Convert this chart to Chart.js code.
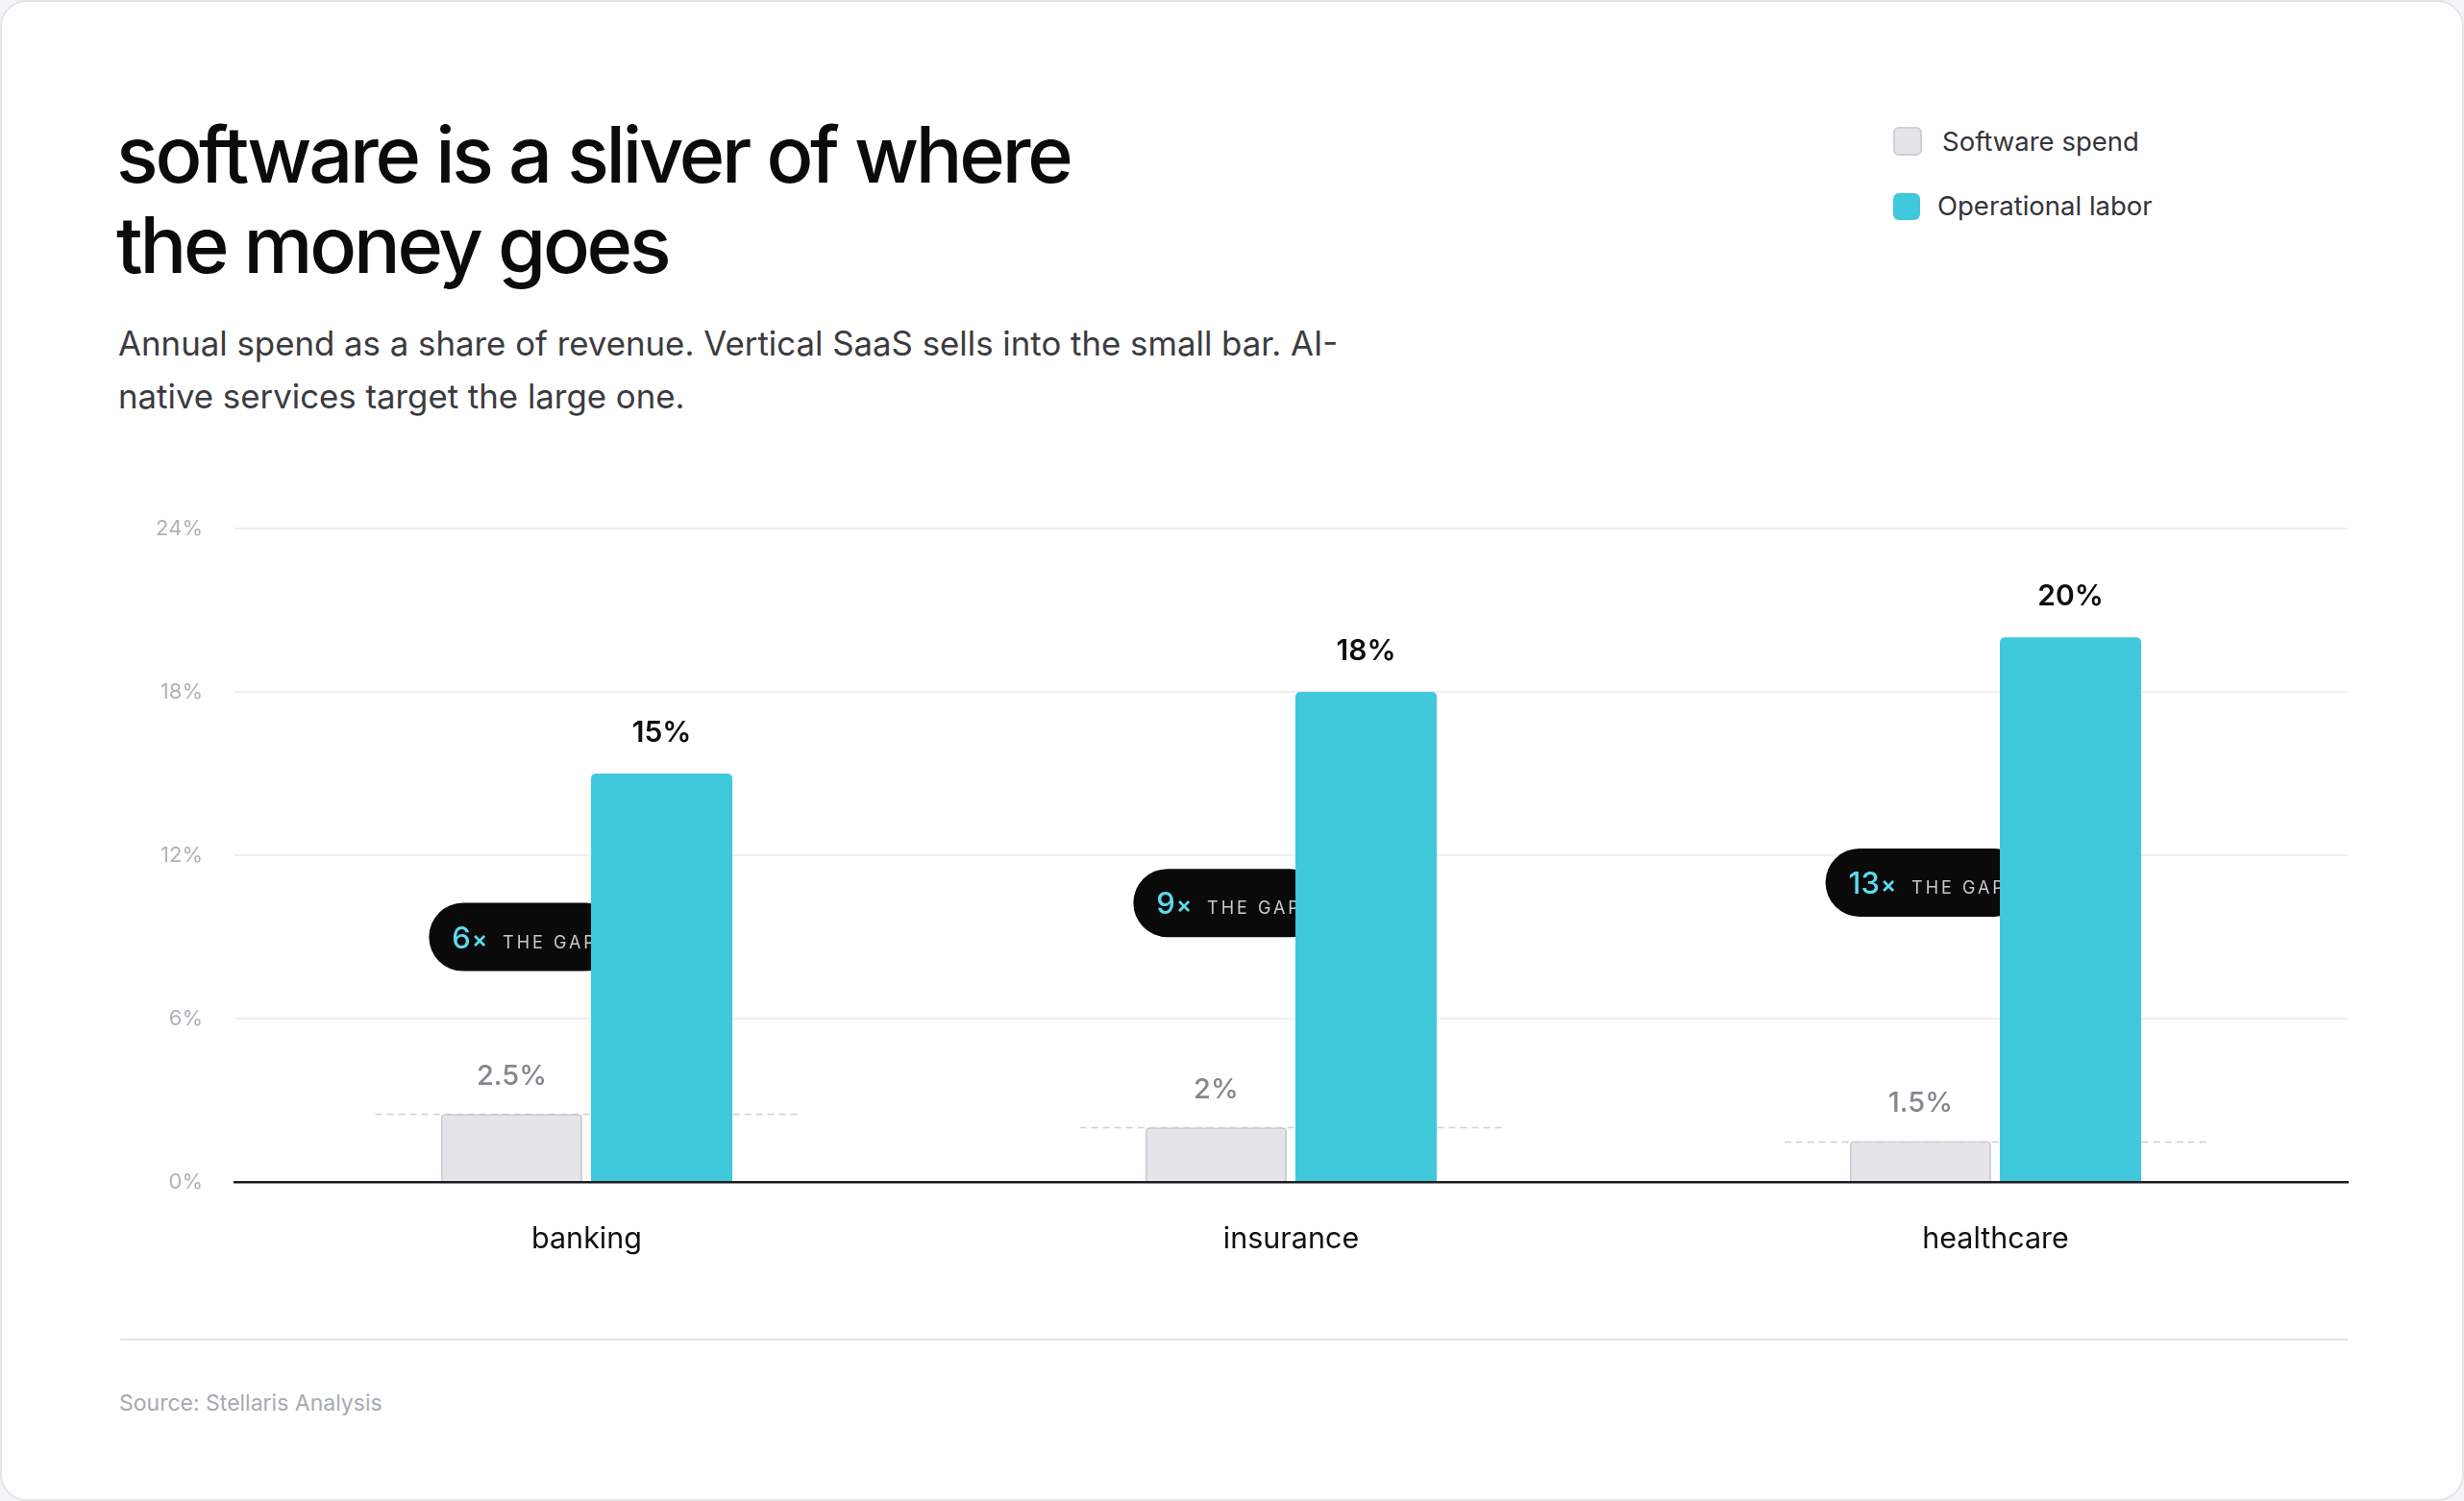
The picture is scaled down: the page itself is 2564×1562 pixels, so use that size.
<!DOCTYPE html>
<html>
<head>
<meta charset="utf-8">
<script src="https://cdn.jsdelivr.net/npm/chart.js@4.4.1/dist/chart.umd.min.js"></script>
<style>
  html, body { margin: 0; padding: 0; background: #f4f4f6; }
  body { width: 2564px; height: 1562px; position: relative; overflow: hidden; font-family: Inter, "Noto Sans", sans-serif; }
  .card { position: absolute; left: 0; top: 0; width: 2564px; height: 1562px; box-sizing: border-box;
          background: #fff; border: 2px solid #e4e4e9; border-radius: 28px; }
  .title { position: absolute; left: 119px; top: 112px; margin: 0; font-size: 81px; line-height: 94px;
           font-weight: 500; letter-spacing: -0.04em; color: #0b0b0c; white-space: nowrap; }
  .subtitle { position: absolute; left: 121px; top: 328px; margin: 0; font-size: 34.8px; line-height: 55px;
              font-weight: 400; color: #3b3b40; white-space: nowrap; }
  .legend { position: absolute; left: 1968px; top: -2px; }
  .legend .sw { position: absolute; left: 0; width: 30px; height: 30px; border-radius: 6px; box-sizing: border-box; }
  .legend .lbl { position: absolute; font-size: 27.5px; line-height: 34px; color: #34343a; white-space: nowrap; }
  .chart-box { position: absolute; left: 0; top: 497px; width: 2564px; height: 850px; }
  .sep { position: absolute; left: 123px; top: 1391px; width: 2318px; height: 2px; background: #e4e4e9; }
  .source { position: absolute; left: 122px; top: 1444px; font-size: 23px; line-height: 28px; color: #a9a9b0; }
</style>
</head>
<body>
<div class="card">
  <h1 class="title">software is a sliver of where<br>the money goes</h1>
  <p class="subtitle">Annual spend as a share of revenue. Vertical SaaS sells into the small bar. AI-<br>native services target the large one.</p>
  <div class="legend">
    <div class="sw" style="top:132px; background:#e4e5e9; border:2px solid #cfd0d6;"></div>
    <div class="lbl" style="left:51px; top:130px;">Software spend</div>
    <div class="sw" style="top:201px; width:28px; height:28px; background:#40c8db;"></div>
    <div class="lbl" style="left:46px; top:197px;">Operational labor</div>
  </div>
  <div class="chart-box"><canvas id="gapChart"></canvas></div>
  <div class="sep"></div>
  <div class="source">Source: Stellaris Analysis</div>
</div>

<script>
// chart data
const categories = ['banking', 'insurance', 'healthcare'];
const softwareSpend = [2.5, 2, 1.5];
const operationalLabor = [15, 18, 20];
const gapMultiples = ['6', '9', '13'];
const yTicks = [0, 6, 12, 18, 24];

const FONT = 'Inter, "Noto Sans", sans-serif';
const CYAN = '#40c8db';

// dashed reference lines, gap pills (behind bars) and value labels
const gapPlugin = {
    id: 'gapPlugin',
    beforeDatasetsDraw(chart) {
        const ctx = chart.ctx;
        const x = chart.scales.x;
        const y = chart.scales.y;
        const catW = x.getPixelForValue(1) - x.getPixelForValue(0);
        const labor = chart.getDatasetMeta(1).data;

        ctx.save();
        categories.forEach((c, i) => {
            // dashed line at software level
            const cx = x.getPixelForValue(i);
            const ly = Math.round(y.getPixelForValue(softwareSpend[i])) + 0.5;
            ctx.setLineDash([7, 5]);
            ctx.strokeStyle = '#cfcfd4';
            ctx.lineWidth = 1.5;
            ctx.beginPath();
            ctx.moveTo(cx - catW * 0.3, ly);
            ctx.lineTo(cx + catW * 0.3, ly);
            ctx.stroke();
            ctx.setLineDash([]);

            // pill with the gap multiple
            const bar = labor[i];
            const barLeft = bar.x - bar.width / 2;
            const midY = y.getPixelForValue((softwareSpend[i] + operationalLabor[i]) / 2) - 7;
            ctx.font = '500 31px ' + FONT;
            const wNum = ctx.measureText(gapMultiples[i]).width;
            ctx.font = '600 24px ' + FONT;
            const wX = ctx.measureText('×').width;
            const wBig = wNum + 1 + wX;
            const left = barLeft - 24 - wBig - 16 - 92;
            const h = 71;
            const r = h / 2;
            ctx.fillStyle = '#0a0a0b';
            ctx.beginPath();
            ctx.roundRect(left, midY - r, barLeft + 30 - left, h, r);
            ctx.fill();

            const base = midY + 11.5;
            ctx.textBaseline = 'alphabetic';
            ctx.textAlign = 'left';
            ctx.fillStyle = '#5cdaee';
            ctx.font = '500 31px ' + FONT;
            ctx.fillText(gapMultiples[i], left + 24, base);
            ctx.font = '600 24px ' + FONT;
            ctx.fillText('×', left + 24 + wNum + 1, base - 1);
            ctx.font = '400 18px ' + FONT;
            ctx.letterSpacing = '3px';
            ctx.fillStyle = '#c9c9ce';
            ctx.fillText('THE GAP', left + 24 + wBig + 16, base);
            ctx.letterSpacing = '0px';
        });
        ctx.restore();
    },
    afterDatasetsDraw(chart) {
        const ctx = chart.ctx;
        ctx.save();
        ctx.textAlign = 'center';
        ctx.textBaseline = 'middle';
        chart.getDatasetMeta(0).data.forEach((bar, i) => {
            ctx.font = '500 29px ' + FONT;
            ctx.fillStyle = '#86868d';
            ctx.fillText(softwareSpend[i] + '%', bar.x, bar.y - 39);
        });
        chart.getDatasetMeta(1).data.forEach((bar, i) => {
            ctx.font = '600 30px ' + FONT;
            ctx.fillStyle = '#0d0d0f';
            ctx.fillText(operationalLabor[i] + '%', bar.x, bar.y - 42);
        });
        ctx.restore();
    }
};

new Chart(document.getElementById('gapChart'), {
    type: 'bar',
    data: {
        labels: categories,
        datasets: [{
            label: 'Software spend',
            data: softwareSpend,
            backgroundColor: '#e4e5e9',
            borderColor: '#cdced4',
            borderWidth: 2,
            borderRadius: { topLeft: 4, topRight: 4 },
            borderSkipped: 'bottom',
            categoryPercentage: 0.426,
            barPercentage: 0.942
        }, {
            label: 'Operational labor',
            data: operationalLabor,
            backgroundColor: CYAN,
            borderRadius: { topLeft: 5, topRight: 5 },
            borderSkipped: 'bottom',
            categoryPercentage: 0.426,
            barPercentage: 0.942
        }]
    },
    options: {
        responsive: true,
        maintainAspectRatio: false,
        animation: false,
        layout: { padding: { left: 0, right: 123, top: 51, bottom: 0 } },
        plugins: {
            legend: { display: false },
            tooltip: { enabled: false }
        },
        scales: {
            x: {
                grid: { display: false, drawTicks: false },
                border: { display: true, color: '#1e1e22', width: 2.5, z: 1 },
                ticks: {
                    color: '#111114',
                    padding: 42,
                    font: { family: FONT, size: 30.5, weight: 400 }
                },
                afterFit(scale) { scale.height = 119; }
            },
            y: {
                min: 0,
                max: 24,
                afterBuildTicks(scale) { scale.ticks = yTicks.map(v => ({ value: v })); },
                grid: { color: '#efeff2', lineWidth: 2, drawTicks: false },
                border: { display: false },
                ticks: {
                    color: '#b1b1b8',
                    padding: 33,
                    font: { family: FONT, size: 22, weight: 400 },
                    callback: v => v + '%'
                },
                afterFit(scale) { scale.width = 242; }
            }
        }
    },
    plugins: [gapPlugin]
});
</script>
</body>
</html>
